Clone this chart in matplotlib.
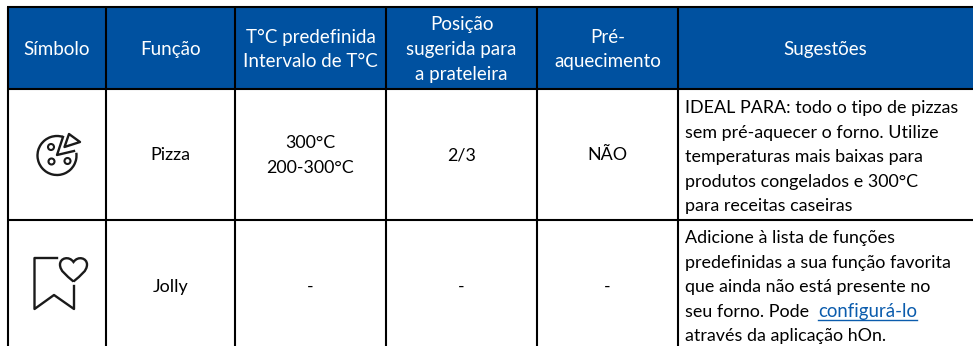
import matplotlib
matplotlib.use("Agg")
import matplotlib.pyplot as plt
from matplotlib.patches import Rectangle, Circle, PathPatch
from matplotlib.path import Path

plt.rcParams['font.family'] = ['Lato', 'DejaVu Sans']

# table content
headers = ["Símbolo", "Função", "T°C predefinida\nIntervalo de T°C",
           "Posição\nsugerida para\na prateleira", "Pré-\naquecimento", "Sugestões"]
row_pizza = ["", "Pizza", "300°C\n200-300°C", "2/3", "NÃO"]
row_jolly = ["", "Jolly", "-", "-", "-"]
tips_pizza = ["IDEAL PARA: todo o tipo de pizzas", "sem pré-aquecer o forno. Utilize",
              "temperaturas mais baixas para", "produtos congelados e 300°C",
              "para receitas caseiras"]
tips_jolly = ["Adicione à lista de funções", "predefinidas a sua função favorita",
              "que ainda não está presente no", "seu forno. Pode", "através da aplicação hOn."]
link_text = "configurá-lo"

# layout in pixels
W, H = 973, 346
col_x = [8, 106, 235, 386, 537, 678, 973]
top, head_bot, row_bot = 7, 88.5, 220
line_h = 24.6
BLUE = "#0051a0"
FS = 12.9
FS_HEAD = 13.5

fig = plt.figure(figsize=(W / 100, H / 100), dpi=100)
ax = fig.add_axes([0, 0, 1, 1])
ax.set_xlim(0, W)
ax.set_ylim(H, 0)
ax.axis("off")

ax.add_patch(Rectangle((col_x[0], top), W - col_x[0], head_bot - top, color=BLUE, lw=0))

# grid
for x in col_x[:-1]:
    ax.plot([x, x], [top, H], color="black", lw=1.5, solid_capstyle="butt")
for y in [top, head_bot, row_bot]:
    ax.plot([col_x[0] - 1, W], [y, y], color="black", lw=1.5, solid_capstyle="butt")

def cell_lines(cx, mid, text, color, size):
    lines = text.split("\n")
    y0 = mid - (len(lines) - 1) * line_h / 2
    for i, s in enumerate(lines):
        ax.text(cx, y0 + i * line_h, s, color=color, fontsize=size, ha="center", va="baseline")

for i, h in enumerate(headers):
    cell_lines((col_x[i] + col_x[i + 1]) / 2, 55, h, "white", FS_HEAD)
for i, s in enumerate(row_pizza):
    if s:
        cell_lines((col_x[i] + col_x[i + 1]) / 2, 160.5, s, "black", FS)
for i, s in enumerate(row_jolly):
    if s:
        cell_lines((col_x[i] + col_x[i + 1]) / 2, 292, s, "black", FS)

for i, s in enumerate(tips_pizza):
    ax.text(685, 113 + i * line_h, s, fontsize=FS, color="black", va="baseline")
for i, s in enumerate(tips_jolly):
    ax.text(685, 243 + i * line_h, s, fontsize=FS, color="black", va="baseline")

# link after "Pode"
LINK = "#0b5cad"
y_link = 243 + 3 * line_h
ax.text(818, y_link, link_text, fontsize=13.4, color=LINK, va="baseline")
ax.plot([818, 917], [y_link + 3, y_link + 3], color=LINK, lw=1)

# pizza icon
ICON = "#1a1a1a"
arc = matplotlib.patches.Arc((57, 155.5), 39, 39, theta1=-8, theta2=288, color=ICON, lw=1.7)
ax.add_patch(arc)
ax.plot([63, 57, 74], [137, 155, 151], color=ICON, lw=1.7)
ax.add_patch(plt.Polygon([(69, 134), (80, 142), (64.5, 147)], fill=False, ec=ICON, lw=1.7, joinstyle="round"))
for c in [(51, 147), (51.5, 161.5), (67.5, 161)]:
    ax.add_patch(Circle(c, 3, fill=False, ec=ICON, lw=1.5))

# bookmark + heart icon
ax.plot([57, 34.5, 34.5, 54, 74, 74], [258, 258, 309, 295, 309, 286], color=ICON, lw=1.7, solid_joinstyle="round")
heart = Path([(73.5, 281.5), (66, 275), (60, 271), (60, 264.5), (60, 258), (69, 255.5), (73.5, 262),
              (78, 255.5), (87, 258), (87, 264.5), (87, 271), (81, 275), (73.5, 281.5)],
             [Path.MOVETO] + [Path.CURVE4] * 12)
ax.add_patch(PathPatch(heart, fill=False, ec=ICON, lw=1.7))

fig.savefig("out.png", dpi=100, facecolor="white")
